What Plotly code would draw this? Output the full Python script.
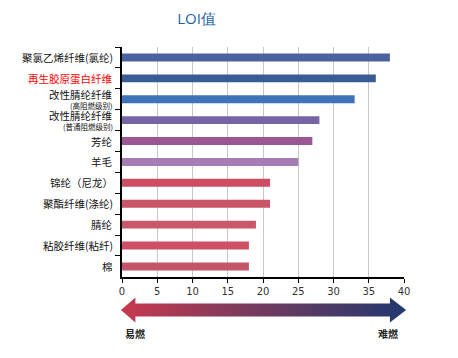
import plotly.graph_objects as go

categories = [
    "聚氯乙烯纤维(氯纶)",
    "再生胶原蛋白纤维",
    "改性腈纶纤维",
    "改性腈纶纤维",
    "芳纶",
    "羊毛",
    "锦纶（尼龙）",
    "聚酯纤维(涤纶)",
    "腈纶",
    "粘胶纤维(粘纤)",
    "棉",
]
sub_labels = ["", "", "(高阻燃级别)", "(普通阻燃级别)", "", "", "", "", "", "", ""]
loi_values = [38, 36, 33, 28, 27, 25, 21, 21, 19, 18, 18]
bar_colors = ['#4a62a0', '#3a5c95', '#3f72b8', '#7565a6', '#995794', '#a77bb4',
              '#cd4d62', '#c95566', '#c9586a', '#cf4f66', '#c35668']
label_colors = ['#111111', '#ff0000'] + ['#111111'] * 9
x_ticks = [0, 5, 10, 15, 20, 25, 30, 35, 40]
title_text = "LOI值"
left_label = "易燃"
right_label = "难燃"

ids = [f"c{i}" for i in range(len(categories))]

fig = go.Figure()
fig.add_trace(go.Bar(
    x=loi_values, y=ids, orientation='h', width=0.38,
    marker=dict(color=bar_colors, line=dict(width=0)),
    xaxis='x', yaxis='y', showlegend=False, hoverinfo='x'
))

# gradient arrow (decoration) on second axes
ax_c, head_h, shaft_h = 28, 12.5, 6.5
lt, lb, rb, rt = -0.15, 1.9, 38.0, 40.3
arrow_x = [lt, lb, lb, rb, rb, rt, rb, rb, lb, lb, lt]
arrow_y = [ax_c, ax_c + head_h, ax_c + shaft_h, ax_c + shaft_h, ax_c + head_h, ax_c,
           ax_c - head_h, ax_c - shaft_h, ax_c - shaft_h, ax_c - head_h, ax_c]
fig.add_trace(go.Scatter(
    x=arrow_x, y=arrow_y, mode='lines', fill='toself',
    line=dict(width=0, color='rgba(0,0,0,0)'),
    fillgradient=dict(type='horizontal',
                      colorscale=[[0, '#c8394f'], [0.5, '#703a60'], [1, '#21386e']]),
    xaxis='x2', yaxis='y2', showlegend=False, hoverinfo='skip'
))

W, H = 450, 350  # page body adds 8px margin
l, r, t, b = 104, 44, 39, 20
pw = W - l - r
ph = H - t - b
ppu = 282 / 40.0

annotations = [
    dict(text=f"<b>{left_label}</b>", xref='x2', yref='y2', x=1.84, y=5,
         showarrow=False, font=dict(size=10, color='#222222'), xanchor='center', yanchor='middle'),
    dict(text=f"<b>{right_label}</b>", xref='x2', yref='y2', x=37.7, y=5,
         showarrow=False, font=dict(size=10, color='#222222'), xanchor='center', yanchor='middle'),
]
for i, (cat, sub, col) in enumerate(zip(categories, sub_labels, label_colors)):
    if sub:
        annotations.append(dict(text=cat, xref='paper', yref='y', x=0.005, y=i, yshift=4.5,
                                showarrow=False, xanchor='right', yanchor='middle', borderpad=0,
                                font=dict(family='Noto Sans CJK SC', size=10.5, color=col)))
        annotations.append(dict(text=sub, xref='paper', yref='y', x=0.005, y=i, yshift=-6,
                                showarrow=False, xanchor='right', yanchor='middle', borderpad=0,
                                font=dict(family='Noto Sans CJK SC', size=7.5, color=col)))
    else:
        annotations.append(dict(text=cat, xref='paper', yref='y', x=0.005, y=i,
                                showarrow=False, xanchor='right', yanchor='middle', borderpad=0,
                                font=dict(family='Noto Sans CJK SC', size=10.5, color=col)))

fig.update_layout(
    width=W, height=H,
    margin=dict(l=l, r=r, t=t, b=b),
    paper_bgcolor='white', plot_bgcolor='white',
    font=dict(family="Noto Sans CJK SC", color='#222222'),
    title=dict(text=title_text, xref='paper', x=(188.5 - l) / pw, xanchor='center',
               yref='container', y=1 - 11 / H, yanchor='middle',
               font=dict(family='Open Sans', size=15, color='#1f5fa5')),
    xaxis=dict(
        domain=[10 / pw, 292 / pw], range=[0, 40], tickvals=x_ticks,
        showgrid=True, gridcolor='#c8c8c8', gridwidth=1,
        showline=True, linecolor='#000000', linewidth=1.5,
        ticks='outside', ticklen=4, tickcolor='#000000',
        tickfont=dict(family='DejaVu Sans', size=10, color='#333333'),
        zeroline=False, anchor='y', fixedrange=True,
    ),
    yaxis=dict(
        domain=[0.21, 1], type='category', categoryorder='array', categoryarray=ids,
        autorange='reversed', showticklabels=False,
        showline=True, linecolor='#000000', linewidth=1.5,
        ticks='outside', ticklen=5, tickcolor='#000000', tickson='boundaries',
        showgrid=False, anchor='x', automargin=False,
    ),
    xaxis2=dict(
        domain=[0, 1], range=[-10 / ppu, 40 + 10 / ppu], visible=False,
        anchor='y2', fixedrange=True,
    ),
    yaxis2=dict(
        domain=[0, 0.2], range=[0, 58.2], visible=False, anchor='x2', fixedrange=True,
    ),
    annotations=annotations,
)

fig.write_html("out.html")
